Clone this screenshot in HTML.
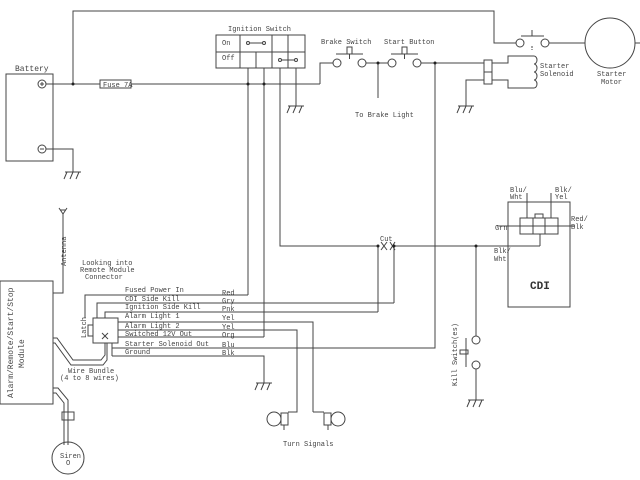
<!DOCTYPE html>
<html><head><meta charset="utf-8"><style>
html,body{margin:0;padding:0;background:#fff}
svg{display:block}
text{font-family:"Liberation Mono",monospace;font-size:7px;fill:#444}
</style></head><body>
<svg width="640" height="480" viewBox="0 0 640 480" xmlns="http://www.w3.org/2000/svg">
<defs>
<g id="gnd" stroke="#444" stroke-width="1" fill="none"><line x1="-8" y1="0" x2="8" y2="0"/><path d="M-6,0 l-3,7 M0,0 l-3,7 M6,0 l-3,7"/></g>
</defs>
<g stroke="#444" stroke-width="1" fill="none">
<polyline points="73,84 73,11 494,11 494,43 516,43"/>
<circle cx="520" cy="43" r="4" fill="#fff"/><circle cx="545" cy="43" r="4" fill="#fff"/>
<line x1="521" y1="36" x2="544" y2="36"/><line x1="532" y1="36" x2="532" y2="30"/>
<line x1="532" y1="46" x2="532" y2="50" stroke-dasharray="2,1"/>
<line x1="549" y1="43" x2="585" y2="43"/>
<circle cx="610" cy="43" r="25"/>
<line x1="635" y1="43" x2="640" y2="43"/>
<rect x="6" y="74" width="47" height="87"/>
<circle cx="42" cy="84" r="4"/><circle cx="42" cy="149" r="4"/>
<line x1="40" y1="84" x2="44" y2="84"/><line x1="42" y1="82" x2="42" y2="86"/><line x1="40" y1="149" x2="44" y2="149"/>
<polyline points="46,149 73,149 73,172"/>
<line x1="46" y1="84" x2="100" y2="84"/>
<rect x="100" y="80" width="31" height="8"/>
<line x1="131" y1="84" x2="320" y2="84"/>
<polyline points="320,84 320,63 333,63"/>
<rect x="216" y="35" width="89" height="33"/>
<line x1="216" y1="52" x2="305" y2="52"/>
<line x1="240" y1="35" x2="240" y2="68"/><line x1="256" y1="52" x2="256" y2="68"/>
<line x1="272" y1="35" x2="272" y2="68"/><line x1="288" y1="35" x2="288" y2="68"/>
<circle cx="248" cy="43" r="1.5"/><circle cx="264" cy="43" r="1.5"/><line x1="249" y1="43" x2="263" y2="43"/>
<circle cx="280" cy="60" r="1.5"/><circle cx="296" cy="60" r="1.5"/><line x1="281" y1="60" x2="295" y2="60"/>
<line x1="248" y1="68" x2="248" y2="295"/>
<line x1="264" y1="68" x2="264" y2="337"/>
<polyline points="280,68 280,246 378,246"/>
<line x1="296" y1="68" x2="296" y2="106"/>
<circle cx="337" cy="63" r="4" fill="#fff"/><circle cx="362" cy="63" r="4" fill="#fff"/>
<line x1="336" y1="54" x2="363" y2="54"/><rect x="347" y="47" width="5" height="7"/><line x1="349.5" y1="54" x2="349.5" y2="59"/>
<line x1="366" y1="63" x2="388" y2="63"/>
<line x1="378" y1="63" x2="378" y2="98"/>
<circle cx="392" cy="63" r="4" fill="#fff"/><circle cx="417" cy="63" r="4" fill="#fff"/>
<line x1="391" y1="54" x2="418" y2="54"/><rect x="402" y="47" width="5" height="7"/><line x1="404.5" y1="54" x2="404.5" y2="59"/>
<line x1="421" y1="63" x2="484" y2="63"/>
<polyline points="435,63 435,348 338,348"/>
<rect x="484" y="60" width="8" height="24"/><line x1="484" y1="72" x2="492" y2="72"/>
<polyline points="492,63 508,63 508,56 534,56"/>
<polyline points="492,80 508,80 508,88 534,88"/>
<path d="M534,56 a3,4 0 0 1 0,8 a3,4 0 0 1 0,8 a3,4 0 0 1 0,8 a3,4 0 0 1 0,8"/>
<polyline points="484,80 466,80 466,106"/>
<line x1="394" y1="246" x2="540" y2="246"/>
<line x1="540" y1="246" x2="540" y2="234"/>
<line x1="378" y1="246" x2="378" y2="312"/>
<line x1="394" y1="246" x2="394" y2="303"/>
<path d="M381,242 l6,8 M387,242 l-6,8 M390,242 l5,8 M395,242 l-5,8"/>
<rect x="508" y="202" width="62" height="105"/>
<rect x="520" y="218" width="38" height="16"/>
<line x1="520" y1="226" x2="558" y2="226"/>
<line x1="533" y1="218" x2="533" y2="234"/><line x1="545" y1="218" x2="545" y2="234"/>
<rect x="535" y="214" width="8" height="4"/>
<line x1="527" y1="193" x2="527" y2="218"/><line x1="551" y1="193" x2="551" y2="218"/>
<line x1="497" y1="226" x2="520" y2="226"/><line x1="558" y1="226" x2="575" y2="226"/>
<line x1="476" y1="246" x2="476" y2="336"/>
<circle cx="476" cy="340" r="4"/><circle cx="476" cy="365" r="4"/>
<line x1="466" y1="338" x2="466" y2="367"/><rect x="460" y="350" width="8" height="4"/>
<line x1="476" y1="369" x2="476" y2="400"/>
<rect x="0" y="281" width="53" height="123"/>
<polyline points="53,293 63,293 63,214"/>
<path d="M59,208 L63,214 L67,208 M60,210 h6"/>
<rect x="93" y="318" width="25" height="25"/>
<rect x="88" y="325" width="5" height="11"/>
<line x1="102" y1="333" x2="108" y2="339"/><line x1="108" y1="333" x2="102" y2="339"/>
<polyline points="85,318 85,295 248,295"/>
<polyline points="97,318 97,303 394,303"/>
<polyline points="105,318 105,312 378,312"/>
<polyline points="118,322 313,322 313,412"/>
<polyline points="118,330 297,330 297,412 289,412"/>
<polyline points="118,337 264,337"/>
<line x1="112" y1="348" x2="435" y2="348"/>
<polyline points="112,356 264,356 264,383"/>
<line x1="112" y1="343" x2="112" y2="356"/>
<path d="M53,338 h4 l16,22 h28 l4,-5 v-12 M53,343 h2 l16,22 h32 l4,-5 v-17"/>
<path d="M53,388 h5 l10,12 v45 M53,393 h3 l8,10 v42"/>
<rect x="62" y="412" width="12" height="8"/><line x1="68" y1="412" x2="68" y2="420"/>
<circle cx="68" cy="458" r="16"/>
<circle cx="274" cy="419" r="7"/><rect x="281" y="413" width="7" height="12"/>
<line x1="288" y1="412" x2="297" y2="412"/><line x1="284" y1="425" x2="284" y2="430"/>
<circle cx="338" cy="419" r="7"/><rect x="324" y="413" width="7" height="12"/>
<line x1="313" y1="412" x2="324" y2="412"/><line x1="328" y1="425" x2="328" y2="430"/>
</g>
<use href="#gnd" x="73" y="172"/><use href="#gnd" x="296" y="106"/><use href="#gnd" x="466" y="106"/>
<use href="#gnd" x="264" y="383"/><use href="#gnd" x="476" y="400"/>
<g fill="#222">
<circle cx="73" cy="84" r="1.5"/><circle cx="248" cy="84" r="1.5"/><circle cx="264" cy="84" r="1.5"/>
<circle cx="378" cy="63" r="1.5"/><circle cx="435" cy="63" r="1.5"/>
<circle cx="378" cy="246" r="1.5"/><circle cx="394" cy="246" r="1.5"/><circle cx="476" cy="246" r="1.5"/>
</g>
<text x="15" y="71" style="font-size:8px">Battery</text>
<text x="103" y="87">Fuse 7A</text>
<text x="228" y="31">Ignition Switch</text>
<text x="222" y="45">On</text><text x="222" y="60">Off</text>
<text x="321" y="44">Brake Switch</text><text x="384" y="44">Start Button</text>
<text x="355" y="117">To Brake Light</text>
<text x="540" y="68">Starter</text><text x="540" y="76">Solenoid</text>
<text x="597" y="76">Starter</text><text x="601" y="84">Motor</text>
<text x="510" y="192">Blu/</text><text x="510" y="199">Wht</text>
<text x="555" y="192">Blk/</text><text x="555" y="199">Yel</text>
<text x="495" y="230">Grn</text><text x="571" y="221">Red/</text><text x="571" y="229">Blk</text>
<text x="494" y="253">Blk/</text><text x="494" y="261">Wht</text>
<text x="530" y="289" style="font-size:11px;font-weight:bold;fill:#333">CDI</text>
<text x="380" y="241">Cut</text>
<text x="82" y="265">Looking into</text><text x="80" y="272">Remote Module</text><text x="85" y="279">Connector</text>
<text x="125" y="292">Fused Power In</text><text x="222" y="295">Red</text>
<text x="125" y="301">CDI Side Kill</text><text x="222" y="303">Gry</text>
<text x="125" y="309">Ignition Side Kill</text><text x="222" y="311">Pnk</text>
<text x="125" y="318">Alarm Light 1</text><text x="222" y="320">Yel</text>
<text x="125" y="328">Alarm Light 2</text><text x="222" y="329">Yel</text>
<text x="125" y="336">Switched 12V Out</text><text x="222" y="337">Org</text>
<text x="125" y="346">Starter Solenoid Out</text><text x="222" y="347">Blu</text>
<text x="125" y="354">Ground</text><text x="222" y="355">Blk</text>
<text x="68" y="373">Wire Bundle</text><text x="60" y="380">(4 to 8 wires)</text>
<text x="60" y="458">Siren</text><text x="66" y="465">O</text>
<text x="283" y="446">Turn Signals</text>
<text transform="translate(66,266) rotate(-90)">Antenna</text>
<text transform="translate(86,338) rotate(-90)">Latch</text>
<text transform="translate(13,398) rotate(-90)" style="font-size:8px">Alarm/Remote/Start/Stop</text>
<text transform="translate(24,368) rotate(-90)" style="font-size:8px">Module</text>
<text transform="translate(457,386) rotate(-90)">Kill Switch(es)</text>
</svg>
</body></html>
